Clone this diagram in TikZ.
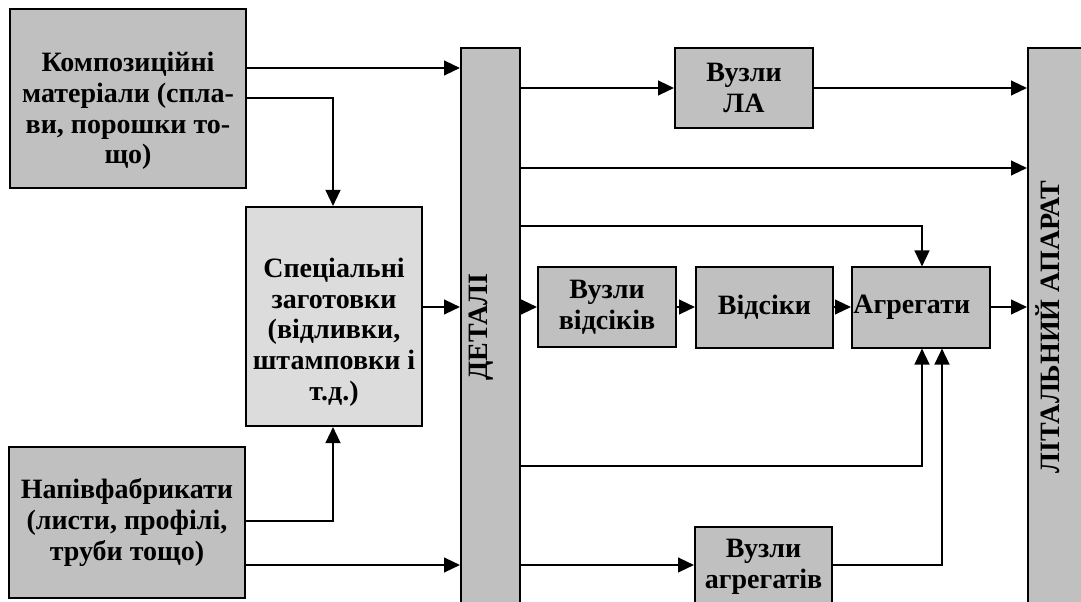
\documentclass[tikz,border=0pt]{standalone}
\usepackage{fontspec}
\setmainfont{Liberation Serif}
\usetikzlibrary{arrows.meta,calc}
\definecolor{gbox}{HTML}{C0C0C0}
\definecolor{lbox}{HTML}{DCDCDC}
\tikzset{
  box/.style={draw, line width=1.5pt, fill=gbox, inner sep=0pt, align=center,
    font=\fontsize{21}{23}\selectfont\bfseries},
  txt/.style={inner sep=0pt, align=center, font=\fontsize{21}{23}\selectfont\bfseries},
  arr/.style={line width=1.7pt, -{Triangle[length=12pt, width=11pt]}},
}
\begin{document}
\begin{tikzpicture}[x=0.75pt, y=-0.75pt]
\useasboundingbox (0,0) rectangle (1081,602);
\clip (0,0) rectangle (1081,602);
% row / column helpers
\coordinate (rA) at (0,68);
\coordinate (rB) at (0,98);
\coordinate (rLA) at (0,88);
\coordinate (r2) at (0,168);
\coordinate (r3) at (0,226);
\coordinate (rM) at (0,307);
\coordinate (r4) at (0,466);
\coordinate (r5) at (0,521);
\coordinate (r6) at (0,565);
\coordinate (cX) at (333,0);
\coordinate (cA1) at (922,0);
\coordinate (cA2) at (942,0);
% boxes
\node[box, minimum width=177pt, minimum height=134.25pt] (komp) at (128,98.5) {};
\node[txt] (kompT) at (128,111) {Композиційні\\матеріали (спла-\\ви, порошки то-\\що)};
\node[box, fill=lbox, minimum width=132pt, minimum height=164.25pt] (spec) at (334,316.5) {};
\node[txt] (specT) at (334,332) {Спеціальні\\заготовки\\(відливки,\\штамповки і\\т.д.)};
\node[box, minimum width=177pt, minimum height=113.25pt] (napiv) at (127,522.5) {Напівфабрикати\\(листи, профілі,\\труби тощо)};
\node[box, minimum width=44.25pt, minimum height=419.25pt] (det) at (490.5,327.5) {};
\node[txt, rotate=90] (detT) at (481,327) {ДЕТАЛІ};
\node[box, minimum width=44.25pt, minimum height=419.25pt] (la) at (1057.5,327.5) {};
\node[txt, rotate=90] (laT) at (1048,327) {ЛІТАЛЬНИЙ АПАРАТ};
\node[box, minimum width=103.5pt, minimum height=60pt] (vla) at (744,88) {Вузли\\ЛА};
\node[box, minimum width=103.5pt, minimum height=60pt] (vv) at (607,307) {Вузли\\відсіків};
\node[box, minimum width=102.75pt, minimum height=60pt] (vid) at (764.5,307.5) {Відсіки};
\node[box, inner xsep=1pt, text width=101.5pt, align=left, minimum height=60pt] (agr) at (921,307.5) {Агрегати};
\node[box, minimum width=102.75pt, minimum height=60pt] (va) at (763.5,567) {Вузли\\агрегатів};
% connectors
\draw[arr] (komp.east |- rA) -- (det.west |- rA);
\draw[arr] (komp.east |- rB) -- (cX |- rB) -- (cX |- spec.north);
\draw[arr] (napiv.east |- r5) -- (cX |- r5) -- (cX |- spec.south);
\draw[arr] (napiv.east |- r6) -- (det.west |- r6);
\draw[arr] (spec.east |- rM) -- (det.west |- rM);
\draw[arr] (det.east |- rLA) -- (vla.west);
\draw[arr] (vla.east) -- (la.west |- rLA);
\draw[arr] (det.east |- r2) -- (la.west |- r2);
\draw[arr] (det.east |- r3) -- (cA1 |- r3) -- (cA1 |- agr.north);
\draw[arr] (det.east |- rM) -- (vv.west |- rM);
\draw[arr] (vv.east |- rM) -- (vid.west |- rM);
\draw[arr] (vid.east |- rM) -- (agr.west |- rM);
\draw[arr] (agr.east |- rM) -- (la.west |- rM);
\draw[arr] (det.east |- r4) -- (cA1 |- r4) -- (cA1 |- agr.south);
\draw[arr] (det.east |- r6) -- (va.west |- r6);
\draw[arr] (va.east |- r6) -- (cA2 |- r6) -- (cA2 |- agr.south);
\end{tikzpicture}
\end{document}
